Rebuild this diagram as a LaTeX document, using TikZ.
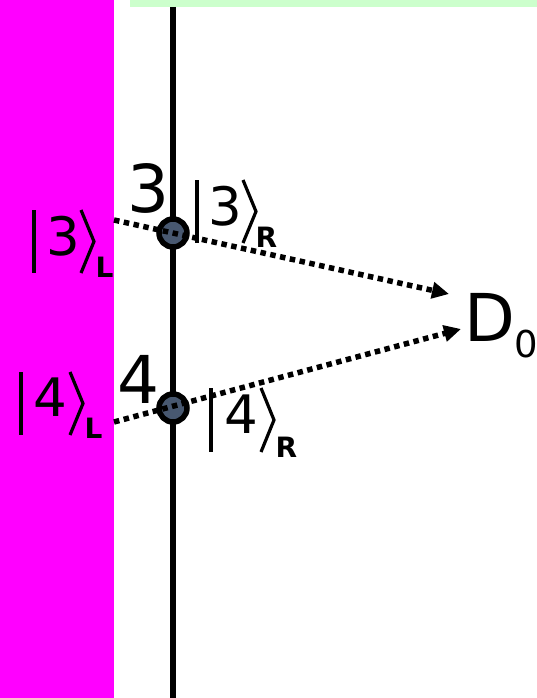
\documentclass[tikz,border=0pt]{standalone}
\usepackage{fontspec}
\setmainfont{DejaVu Sans}
\usetikzlibrary{arrows.meta}
\definecolor{mag}{HTML}{FF00FF}
\definecolor{lgreen}{HTML}{CCFFCC}
\definecolor{dotfill}{HTML}{485870}
\begin{document}
\begin{tikzpicture}[x=1pt,y=-1pt,
  big/.style={font=\fontsize{66}{66}\selectfont, inner sep=0, anchor=base},
  ketnum/.style={font=\fontsize{53}{53}\selectfont, inner sep=0, anchor=base},
  subl/.style={font=\bfseries\fontsize{28}{28}\selectfont, inner sep=0, anchor=base west},
  dsub/.style={font=\fontsize{37}{37}\selectfont, inner sep=0, anchor=base},
  bra/.style={line width=3.2pt, line cap=butt, line join=miter},
  ray/.style={line width=5.5pt, dash pattern=on 5.5pt off 4.5pt, -{Triangle[length=17pt,width=16pt]}},
  qdot/.style={circle, draw, line width=5.5pt, fill=dotfill, minimum size=28pt, inner sep=0pt}]
\useasboundingbox (0,0) rectangle (537,698);
% background bars
\fill[mag] (0,0) rectangle (114,698);
\fill[lgreen] (130,0) rectangle (537,7);
% vertical line
\coordinate (vtop) at (173,7);
\coordinate (vbot) at (173,698);
\draw[line width=6.5pt] (vtop) -- (vbot);
% dots
\node[qdot] (c3) at (173,233) {};
\node[qdot] (c4) at (173,408) {};
% rays
\coordinate (s3) at (114,220);
\coordinate (e3) at (449,294);
\coordinate (s4) at (114,422);
\coordinate (e4) at (461,329);
\draw[ray] (s3) -- (e3);
\draw[ray] (s4) -- (e4);
% labels 3 and 4
\node[big] (n3) at (148,212) {3};
\node[big] (n4) at (138,403) {4};
% |3>_L
\draw[bra] (34,210) -- (34,273);
\node[ketnum] (k3l) at (63,255) {3};
\draw[bra] (81,210) -- (94,241.5) -- (81,273);
\node[subl] (k3ls) at (95.5,277) {L};
% |3>_R
\draw[bra] (197,180) -- (197,243);
\node[ketnum] (k3r) at (225.5,225) {3};
\draw[bra] (243,180) -- (256,211.5) -- (243,243);
\node[subl] (k3rs) at (255.5,247) {R};
% |4>_L
\draw[bra] (21,372) -- (21,435);
\node[ketnum] (k4l) at (50.5,416) {4};
\draw[bra] (70,372) -- (83,403.5) -- (70,435);
\node[subl] (k4ls) at (84.5,438) {L};
% |4>_R
\draw[bra] (211,388) -- (211,452);
\node[ketnum] (k4r) at (241,433) {4};
\draw[bra] (261,388) -- (274,420) -- (261,452);
\node[subl] (k4rs) at (275.5,457) {R};
% D_0
\node[big, anchor=base west] (D) at (464,341) {D};
\node[dsub] (D0) at (526,357) {0};
\end{tikzpicture}
\end{document}
